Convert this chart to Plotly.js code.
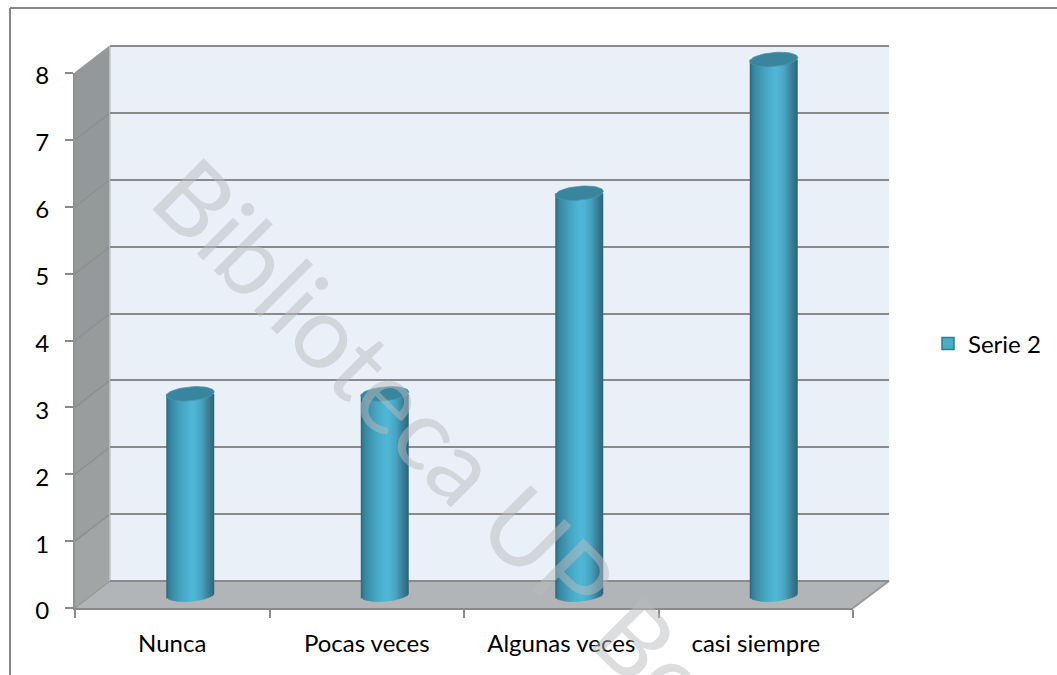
<!DOCTYPE html>
<html><head><meta charset="utf-8">
<script src="https://cdn.plot.ly/plotly-3.0.1.min.js"></script>
<style>html,body{margin:0;padding:0;background:#fff}#c{width:1057px;height:675px}</style>
</head><body><div id="c"></div>
<script>
const categories = ["Nunca", "Pocas veces", "Algunas veces", "casi siempre"];
const values = [3, 3, 6, 8];
const seriesName = "Serie 2";
const yTicks = [0, 1, 2, 3, 4, 5, 6, 7, 8];
const watermark = "Biblioteca UP Bo";

const W = 1057, H = 675;
const X = p => p / W, Y = p => 1 - p / H;
const FONT = "Lato, Carlito, sans-serif";
const GRID = "#8a8a8a";
const unit = (608 - 73) / 8, catW = (853 - 75) / 4;

/* cylinder shading, left to right */
const ramp = [[-1,[40,104,125]],[-0.85,[54,134,158]],[-0.35,[70,167,195]],[0.1,[80,184,216]],[0.45,[72,165,194]],[0.75,[58,127,151]],[1,[46,98,118]]];
function shade(u){
  for(let i=1;i<ramp.length;i++){ if(u<=ramp[i][0]){
    const a=ramp[i-1],b=ramp[i],t=(u-a[0])/(b[0]-a[0]);
    return "rgb("+a[1].map((c,k)=>Math.round(c+(b[1][k]-c)*t)).join(",")+")";
  }}
  return "rgb(46,98,118)";
}
const xIdx = categories.map((_, i) => i);
const data = [];
/* empty traces keep the back wall and front axes alive */
data.push({type:"scatter",mode:"none",x:xIdx,y:values,xaxis:"x",yaxis:"y",showlegend:false,hoverinfo:"skip"});
/* legend carrier, hidden behind the cylinders */
data.push({type:"bar",name:seriesName,x:xIdx,y:values,xaxis:"x2",yaxis:"y2",width:0.1,
  marker:{color:"#4bacc6",line:{color:"#2f7d95",width:1.5}},showlegend:true,hoverinfo:"skip"});
const N = 24, rx = 24, ry = 7, tilt = 2;
for(let s=0;s<N;s++){
  const u = -1 + (2*s+1)/N;
  const b = -(ry*Math.sqrt(1-u*u) - tilt*u)/unit;
  const extra = s<N-1 ? 1 : 0;
  data.push({type:"bar",x:xIdx,y:values.map(v=>v-b),base:values.map(()=>b),xaxis:"x2",yaxis:"y2",
    width:(2*rx/N+extra)/catW,offset:(-rx+s*2*rx/N)/catW,
    marker:{color:shade(u),line:{width:0}},showlegend:false,hoverinfo:"skip"});
}
/* cylinder caps */
values.forEach((v,i)=>{
  const xs=[],ys=[];
  for(let a=0;a<=48;a++){
    const t=a/48*2*Math.PI, c=Math.cos(t), sn=Math.sin(t);
    xs.push(i+rx*c/catW); ys.push(v+(ry*sn+tilt*c)/unit);
  }
  data.push({type:"scatter",mode:"lines",x:xs,y:ys,xaxis:"x2",yaxis:"y2",fill:"toself",fillcolor:"#38859d",
    line:{width:0.8,color:"#4a97ae"},showlegend:false,hoverinfo:"skip"});
});
data.push({type:"scatter",mode:"none",x:xIdx,y:values,xaxis:"x3",yaxis:"y3",showlegend:false,hoverinfo:"skip"});

/* room: back wall, floor, side wall */
function poly(pts,fill,line){
  return {type:"path",xref:"paper",yref:"paper",layer:"below",
    path:"M"+pts.map(p=>X(p[0]).toFixed(5)+","+Y(p[1]).toFixed(5)).join("L")+"Z",
    fillcolor:fill,line:line||{width:0}};
}
function seg(x0,y0,x1,y1,color,w){
  return {type:"line",xref:"paper",yref:"paper",layer:"below",x0:X(x0),y0:Y(y0),x1:X(x1),y1:Y(y1),line:{color:color,width:w}};
}
const shapes=[];
shapes.push(poly([[110,46],[889,46],[889,581],[110,581]],"#e9f0f7"));
shapes.push(poly([[75,608],[853,608],[889,581],[110,581]],"#b1b5b7"));
/* side wall gets lighter towards the floor */
const wallCols=["#93989a","#93989a","#94999a","#95999b","#979b9c","#999d9e","#9c9fa0","#a1a5a5"];
for(let k=0;k<8;k++){
  const a=73+unit*k,b=73+unit*(k+1);
  shapes.push(poly([[75,a],[110,a-27],[110,b-27+0.5],[75,b+0.5]],wallCols[k]));
}
yTicks.forEach(t=>{
  if(t>0&&t<8){ const p=608-t*unit; shapes.push(seg(75,p,110,p-27,"#8d9091",1.5)); }
});
shapes.push(seg(75,73,110,46,"#9a9a9a",1.5));
shapes.push(seg(75,608,110,581,"#9a9a9a",1.5));
shapes.push(seg(853,608,889,581,"#9a9a9a",2));
shapes.push(seg(110,46,110,581,"#c4c8cb",1.5));
shapes.push(seg(110,46,889,46,GRID,2));
shapes.push(seg(110,581,889,581,GRID,2));
shapes.push(seg(10,8,1057,8,"#868686",2));
shapes.push(seg(10,8,10,675,"#868686",2));

const axisFont={family:FONT,size:24,color:"#000"};
const layout={
  width:W,height:H,margin:{l:0,r:0,t:0,b:0},paper_bgcolor:"#fff",plot_bgcolor:"rgba(0,0,0,0)",
  showlegend:true,barmode:"overlay",
  legend:{x:X(928),y:Y(344),xanchor:"left",yanchor:"middle",font:{family:FONT,size:24,color:"#000"},bgcolor:"rgba(0,0,0,0)"},
  /* back wall grid */
  xaxis:{domain:[X(110),X(889)],range:[-0.5,3.5],anchor:"y",showgrid:false,showticklabels:false,ticks:"",zeroline:false,showline:false,fixedrange:true},
  yaxis:{domain:[Y(581),Y(46)],range:[0,8],anchor:"x",tickvals:yTicks,showgrid:true,gridcolor:GRID,gridwidth:2,showticklabels:false,ticks:"",zeroline:false,showline:false,fixedrange:true},
  /* cylinders stand half way into the room */
  xaxis2:{domain:[X(93),X(871)],range:[-0.5,3.5],anchor:"y2",visible:false,fixedrange:true},
  yaxis2:{domain:[Y(594.5+0.2*unit),Y(594.5-8.4*unit)],range:[-0.2,8.4],anchor:"x2",visible:false,fixedrange:true},
  /* front axes */
  xaxis3:{domain:[X(75),X(853)],range:[-0.5,3.5],anchor:"y3",tickvals:xIdx,ticktext:categories,ticks:"",
    tickfont:axisFont,showgrid:false,zeroline:false,showline:true,linecolor:GRID,linewidth:2,ticklabelstandoff:13,
    minor:{tickvals:[-0.5,0.5,1.5,2.5,3.5],ticks:"outside",ticklen:8,tickwidth:2,tickcolor:GRID,showgrid:false},fixedrange:true},
  yaxis3:{domain:[Y(608),Y(73)],range:[0,8],anchor:"x3",tickvals:yTicks,ticks:"outside",ticklen:8,tickwidth:2,tickcolor:GRID,
    tickfont:axisFont,showgrid:false,zeroline:false,showline:true,linecolor:"#8f9292",linewidth:2,ticklabelstandoff:11,ticklabelshift:3,fixedrange:true},
  shapes:shapes,
  annotations:[]
};
/* watermark */
const wmSize=101, wmWeight=400, cap=0.72*wmSize;
const ctx=document.createElement("canvas").getContext("2d");
ctx.font=wmWeight+" "+wmSize+"px Lato";
const wmW=ctx.measureText(watermark).width, r=Math.SQRT1_2;
const cx=147+wmW/2*r+cap/2*r, cy=200+wmW/2*r-cap/2*r;
layout.annotations.push({text:watermark,xref:"paper",yref:"paper",x:X(cx),y:Y(cy),xanchor:"center",yanchor:"middle",
  textangle:45,showarrow:false,font:{family:FONT,size:wmSize,weight:wmWeight,color:"rgba(185,188,190,0.5)"}});
Plotly.newPlot("c",data,layout,{staticPlot:true,displayModeBar:false});
</script></body></html>
